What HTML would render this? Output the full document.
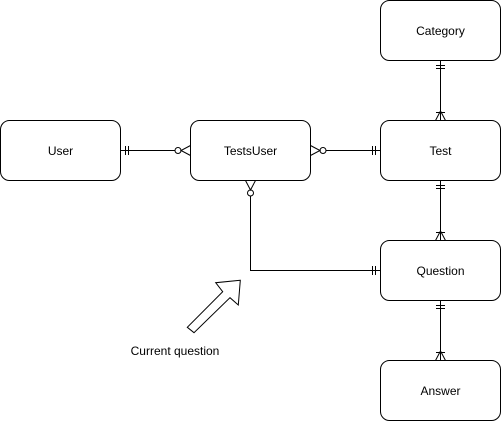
<!DOCTYPE html>
<html><head><style>body{margin:0;background:#fff}</style></head><body>
<svg width="501" height="421" xmlns="http://www.w3.org/2000/svg" font-family="Liberation Sans, sans-serif" font-size="12">
<g fill="#fff" stroke="#000" stroke-width="1">
<rect x="380.5" y="0.5" width="120" height="60" rx="9"/>
<rect x="0.5" y="120.5" width="120" height="60" rx="9"/>
<rect x="190.5" y="120.5" width="120" height="60" rx="9"/>
<rect x="380.5" y="120.5" width="120" height="60" rx="9"/>
<rect x="380.5" y="240.5" width="120" height="60" rx="9"/>
<rect x="380.5" y="360.5" width="120" height="60" rx="9"/>
</g>
<g text-anchor="middle" fill="#000">
<text x="440.5" y="35">Category</text>
<text x="60.5" y="155">User</text>
<text x="250.5" y="155">TestsUser</text>
<text x="440.5" y="155">Test</text>
<text x="440.5" y="275">Question</text>
<text x="440.5" y="395">Answer</text>
<text x="175" y="355">Current question</text>
</g>
<g fill="none" stroke="#000" stroke-width="1">
<!-- User - TestsUser -->
<path d="M120.5 150.5H175"/>
<path d="M125.5 146v9M128.5 146v9"/>
<circle cx="178" cy="150.5" r="3" fill="#fff"/>
<path d="M190.5 145.5L181 150.5L190.5 155.5"/>
<!-- TestsUser - Test -->
<path d="M326 150.5H380.5"/>
<path d="M372.5 146v9M375.5 146v9"/>
<circle cx="323" cy="150.5" r="3" fill="#fff"/>
<path d="M310.5 145.5L320 150.5L310.5 155.5"/>
<!-- Category - Test -->
<path d="M440.5 60.5V120.5"/>
<path d="M436 65.5h9M436 68.5h9"/>
<path d="M435.5 120.5L440.5 111L445.5 120.5M436 112.5h9"/>
<!-- Test - Question -->
<path d="M440.5 180.5V240.5"/>
<path d="M436 185.5h9M436 188.5h9"/>
<path d="M435.5 240.5L440.5 231L445.5 240.5M436 232.5h9"/>
<!-- Question - Answer -->
<path d="M440.5 300.5V360.5"/>
<path d="M436 305.5h9M436 308.5h9"/>
<path d="M435.5 360.5L440.5 351L445.5 360.5M436 352.5h9"/>
<!-- TestsUser - Question -->
<path d="M250.5 196V270.5H380.5"/>
<path d="M372.5 266v9M375.5 266v9"/>
<circle cx="250.5" cy="193" r="3" fill="#fff"/>
<path d="M245.5 180.5L250.5 190L255.5 180.5"/>
<!-- block arrow -->
<path d="M240.3 280.3L215.7 282.7L222.7 291.7L187.3 327.3L194 332.7L230 297.7L238.3 305Z" fill="#fff"/>
</g>
</svg>
</body></html>
